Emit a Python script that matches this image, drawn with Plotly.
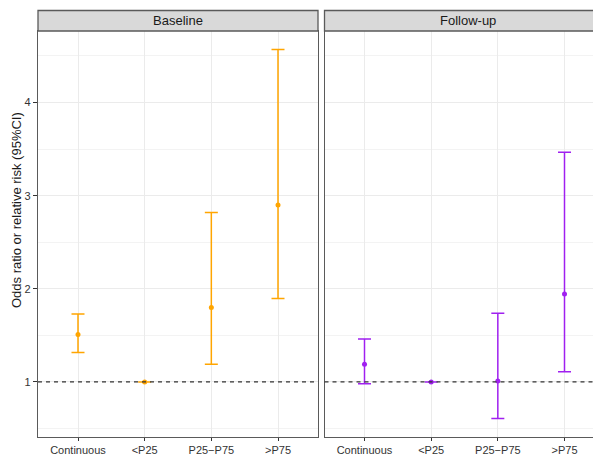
import html
import plotly.graph_objects as go

categories = ["Continuous", "<P25", "P25\u2212P75", ">P75"]
panels = ["Baseline", "Follow-up"]

baseline_est = [1.51, 1.00, 1.80, 2.90]
baseline_lo = [1.315, 1.00, 1.19, 1.895]
baseline_hi = [1.73, 1.00, 2.82, 4.57]

followup_est = [1.19, 1.00, 1.01, 1.945]
followup_lo = [0.98, 1.00, 0.607, 1.11]
followup_hi = [1.46, 1.00, 1.737, 3.465]

colors = ["#FFA500", "#A020F0"]

# the page body has an 8px default margin; compensate so the screen matches
OFF = 8
W, H = 601, 455
ML, MR, MT, MB = 30, 0, 23, 26
PW = W - ML - MR
PH = H - MT - MB

def px2x(p):  # screen pixel -> paper x
    return (p - OFF - ML) / PW

def py2y(p):  # screen pixel -> paper y
    return (PH - (p - OFF - MT)) / PH

d1 = [0, px2x(318)]
d2 = [px2x(324.5), 1]
unit = (318 - 38) / 4.2
right_span = (W + OFF - 324.5) / unit

ymin, ymax = 0.409, 4.768

fig = go.Figure()
xs = list(range(len(categories)))
series = [(baseline_est, baseline_lo, baseline_hi, "x", "y"),
          (followup_est, followup_lo, followup_hi, "x2", "y2")]
for (est, lo, hi, xa, ya), col in zip(series, colors):
    fig.add_trace(go.Scatter(
        x=xs, y=est, xaxis=xa, yaxis=ya, mode="markers",
        marker=dict(color=col, size=5),
        error_y=dict(type="data", symmetric=False,
                     array=[h - e for h, e in zip(hi, est)],
                     arrayminus=[e - l for e, l in zip(est, lo)],
                     color=col, thickness=1.5, width=6.5),
        showlegend=False))

grid = "#EBEBEB"
border = "#5a5a5a"
fam = "Liberation Sans, Arial, sans-serif"
tickfont = dict(family=fam, size=11, color="#333333")
ticktext = [html.escape(c) for c in categories]

common_x = dict(tickmode="array", tickvals=xs, ticktext=ticktext, showgrid=True,
                gridcolor=grid, gridwidth=1, zeroline=False, ticks="outside",
                ticklen=3, tickcolor="#333333", tickwidth=1, tickfont=tickfont,
                showline=True, linecolor=border, linewidth=1.3, mirror=True)
common_y = dict(range=[ymin, ymax], tickmode="array", tickvals=[1, 2, 3, 4],
                showgrid=True, gridcolor=grid, gridwidth=1, zeroline=False,
                minor=dict(tickmode="array", tickvals=[0.5, 1.5, 2.5, 3.5, 4.5],
                           showgrid=True, gridcolor="#F3F3F3", gridwidth=0.6, ticks=""),
                showline=True, linecolor=border, linewidth=1.3)

fig.update_layout(
    width=W, height=H,
    margin=dict(l=ML, r=MR, t=MT, b=MB, pad=0),
    paper_bgcolor="white", plot_bgcolor="white",
    xaxis=dict(domain=d1, range=[-0.6, 3.6], anchor="y", **common_x),
    xaxis2=dict(domain=d2, range=[-0.6, -0.6 + right_span], anchor="y2", **common_x),
    yaxis=dict(anchor="x", mirror=True, ticks="outside", ticklen=4, tickcolor="#333333",
               tickfont=tickfont, **common_y),
    yaxis2=dict(anchor="x2", matches="y", showticklabels=False, ticks="", mirror=False, **common_y),
)

# dashed reference line at 1
for xr, yr in [("x domain", "y"), ("x2 domain", "y2")]:
    fig.add_shape(type="line", xref=xr, yref=yr, x0=0, x1=1, y0=1, y1=1,
                  line=dict(color="#333333", width=1.3, dash="4px,4px"))

# facet strips
strip_top = 1 + 20.5 / PH
for (x0, x1), label, cx in [(d1, panels[0], (d1[0] + d1[1]) / 2),
                            ((d2[0], 1.05), panels[1], px2x(468))]:
    fig.add_shape(type="rect", xref="paper", yref="paper", x0=x0, x1=x1, y0=1, y1=strip_top,
                  fillcolor="#D9D9D9", line=dict(color=border, width=1.3), layer="above")
    fig.add_annotation(xref="paper", yref="paper", x=cx, y=(1 + strip_top) / 2,
                       text=label, showarrow=False, xanchor="center", yanchor="middle",
                       font=dict(family=fam, size=13, color="#1A1A1A"))

fig.add_annotation(xref="paper", yref="paper", x=px2x(17), y=py2y(210),
                   text="Odds ratio or relative risk (95%CI)", textangle=-90, showarrow=False,
                   xanchor="center", yanchor="middle",
                   font=dict(family=fam, size=13, color="#1A1A1A"))

fig.write_html("out.html")
